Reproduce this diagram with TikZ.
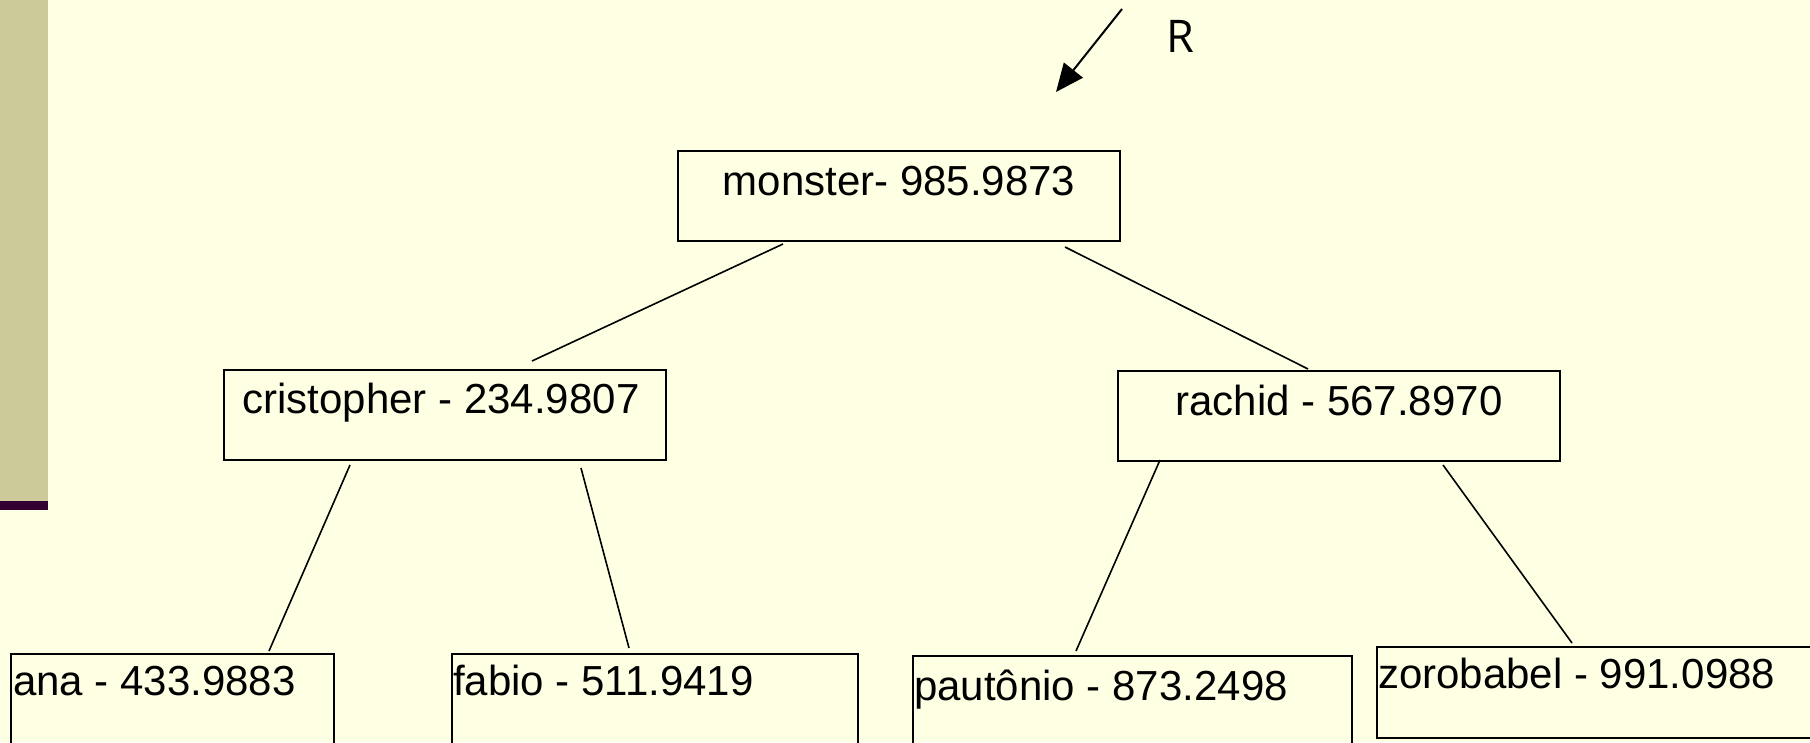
\documentclass[tikz,border=0pt]{standalone}
\usepackage{fontspec}
\setmainfont{Liberation Sans}
\newfontfamily\rfont{Open Sans}
\usetikzlibrary{arrows.meta,calc}
\definecolor{bgcol}{RGB}{255,255,228}
\definecolor{stripcol}{RGB}{204,202,152}
\definecolor{barcol}{RGB}{51,0,51}
\begin{document}
\begin{tikzpicture}[x=1pt,y=1pt,
  box/.style={draw=black, line width=2pt, inner sep=0pt, anchor=north west},
  ctxt/.style={inner sep=0pt, anchor=base, font=\fontsize{42}{50}\selectfont},
  ltxt/.style={inner sep=0pt, anchor=base west, font=\fontsize{42}{50}\selectfont},
  edge/.style={line width=1.6pt}]
\useasboundingbox (0,0) rectangle (1810,-742);
\clip (0,0) rectangle (1810,-742);
\fill[bgcol] (0,0) rectangle (1810,-742);
\fill[stripcol] (0,0) rectangle (48,-501);
\fill[barcol] (0,-501) rectangle (48,-510);

% boxes
\node[box, minimum width=442pt, minimum height=90pt] (monster) at (677,-150) {};
\node[box, minimum width=442pt, minimum height=90pt] (cris) at (223,-369) {};
\node[box, minimum width=442pt, minimum height=90pt] (rachid) at (1117,-370) {};
\node[box, minimum width=323pt, minimum height=100pt] (ana) at (10,-653) {};
\node[box, minimum width=406pt, minimum height=89.5pt] (fabio) at (451,-653) {};
\node[box, minimum width=439pt, minimum height=90pt] (paut) at (912,-655) {};
\node[box, minimum width=440pt, minimum height=91pt] (zoro) at (1376,-646) {};

% texts
\node[ctxt] (monstert) at ($(monster.north)+(0,-45)$) {monster- 985.9873};
\node[ctxt] (crist) at ($(cris.north)+(-4,-44)$) {cristopher - 234.9807};
\node[ctxt] (rachidt) at ($(rachid.north)+(0,-45)$) {rachid - 567.8970};
\node[ltxt] (anat) at ($(ana.north west)+(3,-42)$) {ana - 433.9883};
\node[ltxt] (fabiot) at ($(fabio.north west)+(2,-42)$) {fabio - 511.9419};
\node[ltxt] (pautt) at ($(paut.north west)+(2,-45)$) {pautônio - 873.2498};
\node[ltxt] (zorot) at ($(zoro.north west)+(2,-42)$) {zorobabel - 991.0988};

% connectors
\draw[edge] ($(monster.south west)+(106,-2)$) -- ($(cris.north west)+(309,8)$);
\draw[edge] ($(monster.south west)+(388,-5)$) -- ($(rachid.north west)+(191,1)$);
\draw[edge] ($(cris.south west)+(127,-4)$) -- ($(ana.north west)+(259,2)$);
\draw[edge] ($(cris.south west)+(358,-7)$) -- ($(fabio.north west)+(178,5)$);
\draw[edge] ($(rachid.south west)+(43,2)$) -- ($(paut.north west)+(164,4)$);
\draw[edge] ($(rachid.south west)+(326,-3)$) -- ($(zoro.north west)+(196,3)$);

% arrow and R
\coordinate (rtail) at (1122,-9);
\coordinate (rtip) at (1056,-92);
\draw[line width=2pt, -{Triangle[length=28pt,width=24pt]}] (rtail) -- (rtip);
\node[anchor=base west, inner sep=0pt, font=\rfont\fontsize{45}{54}\selectfont] (rlabel) at (1166,-52) {R};
\end{tikzpicture}
\end{document}
